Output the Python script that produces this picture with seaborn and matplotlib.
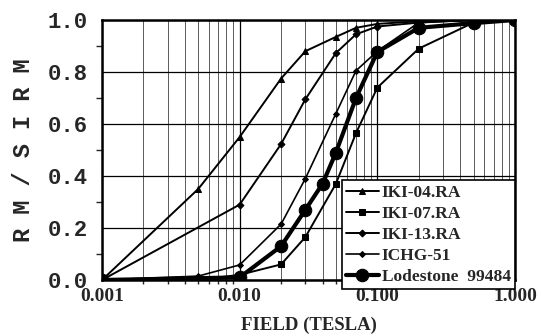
import matplotlib
matplotlib.use("Agg")
import matplotlib.pyplot as plt
import seaborn as sns
import numpy as np
from matplotlib.ticker import FixedLocator, FuncFormatter, LogLocator, MultipleLocator

# ---- data ----
iki04_x = [0.001, 0.005, 0.01, 0.02, 0.03, 0.05, 0.07, 0.1, 0.2, 0.5, 1.0]
iki04_y = [0.0, 0.35, 0.55, 0.775, 0.88, 0.935, 0.97, 0.985, 0.995, 1.0, 1.0]

iki07_x = [0.001, 0.005, 0.01, 0.02, 0.03, 0.05, 0.07, 0.1, 0.2, 0.5, 1.0]
iki07_y = [0.0, 0.0, 0.02, 0.06, 0.165, 0.37, 0.565, 0.74, 0.89, 0.99, 1.0]

iki13_x = [0.001, 0.01, 0.02, 0.03, 0.05, 0.07, 0.1, 0.2, 0.5, 1.0]
iki13_y = [0.0, 0.29, 0.523, 0.695, 0.873, 0.945, 0.975, 0.99, 1.0, 1.0]

ichg_x = [0.001, 0.005, 0.01, 0.02, 0.03, 0.05, 0.07, 0.1, 0.2, 0.5, 1.0]
ichg_y = [0.0, 0.015, 0.058, 0.215, 0.39, 0.64, 0.805, 0.88, 0.99, 1.0, 1.0]

lode_x = [0.001, 0.01, 0.02, 0.03, 0.04, 0.05, 0.07, 0.1, 0.2, 0.5, 1.0]
lode_y = [0.0, 0.01, 0.13, 0.27, 0.37, 0.49, 0.70, 0.877, 0.97, 0.988, 1.0]

series_names = ["IKI-04.RA", "IKI-07.RA", "IKI-13.RA", "ICHG-51", "Lodestone  99484"]
x_ticks = [0.001, 0.01, 0.1, 1.0]
x_tick_labels = ["0.001", "0.010", "0.100", "1.000"]
y_ticks = [0.0, 0.2, 0.4, 0.6, 0.8, 1.0]

sns.set_style("white")
plt.rcParams["font.family"] = ["DejaVu Sans"]

fig = plt.figure(figsize=(5.42, 3.36), dpi=100)
ax = fig.add_axes([102/542, 56/336, 413/542, 260/336])

styles = [
    dict(marker="^", ms=5, lw=1.4),
    dict(marker="s", ms=4, lw=1.4),
    dict(marker="D", ms=3.5, lw=1.4),
    dict(marker="D", ms=3, lw=1.2),
    dict(marker="o", ms=9, lw=3.0),
]
data = [(iki04_x, iki04_y), (iki07_x, iki07_y), (iki13_x, iki13_y),
        (ichg_x, ichg_y), (lode_x, lode_y)]

for (xs, ys), name, st in zip(data, series_names, styles):
    sns.lineplot(x=xs, y=ys, ax=ax, color="black", marker=st["marker"],
                 markersize=st["ms"], linewidth=st["lw"], label=name,
                 markeredgecolor="black", markerfacecolor="black", zorder=3)

ax.set_xscale("log")
ax.set_xlim(0.001, 1.0)
ax.set_ylim(0.0, 1.0)

ax.xaxis.set_major_locator(FixedLocator(x_ticks))
ax.xaxis.set_major_formatter(FuncFormatter(lambda v, p: x_tick_labels[x_ticks.index(min(x_ticks, key=lambda t: abs(np.log10(t) - np.log10(v))))]))
ax.xaxis.set_minor_locator(LogLocator(base=10, subs=np.arange(2, 10)))
ax.xaxis.set_minor_formatter(FuncFormatter(lambda v, p: ""))
ax.yaxis.set_major_locator(FixedLocator(y_ticks))
ax.yaxis.set_major_formatter(FuncFormatter(lambda v, p: f"{v:.1f}"))
ax.yaxis.set_minor_locator(MultipleLocator(0.1))

ax.grid(True, which="major", axis="both", color="black", lw=0.9)
ax.grid(True, which="minor", axis="x", color="black", lw=0.6, alpha=0.75)

for s in ax.spines.values():
    s.set_visible(True)
    s.set_color("black")
    s.set_linewidth(1.8)

ax.tick_params(axis="y", which="major", direction="out", length=4, width=1, pad=6)
ax.tick_params(axis="y", which="minor", direction="out", length=4, width=1, left=True)
ax.tick_params(axis="x", which="major", direction="out", length=0, pad=6)
ax.tick_params(axis="x", which="minor", direction="out", length=3, width=1, bottom=True)

for lab in ax.get_yticklabels():
    lab.set_fontfamily("Liberation Mono")
    lab.set_fontweight("bold")
    lab.set_fontsize(16)
for lab in ax.get_xticklabels():
    lab.set_fontfamily("Liberation Serif")
    lab.set_fontweight("bold")
    lab.set_fontsize(14)

ax.set_xlabel("FIELD (TESLA)", fontfamily="Liberation Serif", fontweight="bold",
              fontsize=13.5, labelpad=8)
ax.set_ylabel("R M / S I R M", fontfamily="Liberation Mono", fontweight="bold",
              fontsize=17, labelpad=9)

leg = ax.legend(loc="lower right", bbox_to_anchor=(1.0, -0.035), borderaxespad=0,
                frameon=True, fancybox=False, framealpha=1, edgecolor="black",
                handlelength=1.9, handletextpad=0.15, borderpad=0.25,
                labelspacing=0.28, prop=dict(family="Liberation Serif", weight="bold", size=12.5))
leg.get_frame().set_linewidth(1.2)
leg.set_zorder(5)

fig.savefig("out.png", dpi=100)
